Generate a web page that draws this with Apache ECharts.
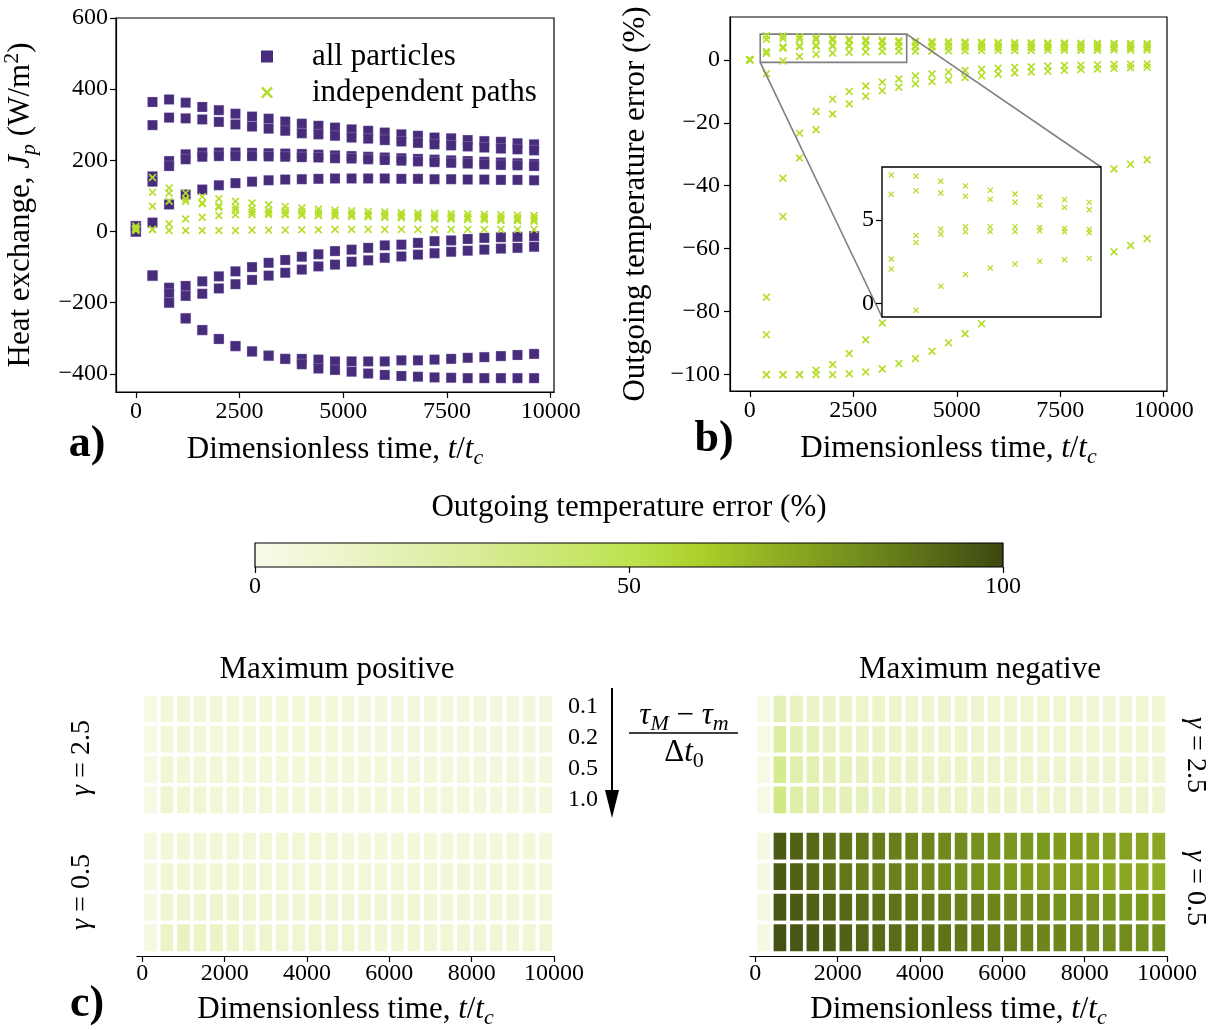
<!DOCTYPE html>
<html><head><meta charset="utf-8">
<script src="https://cdn.jsdelivr.net/npm/echarts@6/dist/echarts.min.js"></script>
<style>html,body{margin:0;padding:0;background:#fff}#c{width:1226px;height:1030px}</style>
</head><body><div id="c"></div>
<script>
// ---------------- DATA ----------------
const times = [0,400,800,1200,1600,2000,2400,2800,3200,3600,4000,4400,4800,5200,5600,6000,6400,6800,7200,7600,8000,8400,8800,9200,9600];

// Panel a: heat exchange J_p (W/m^2), "all particles"
const allP_A = [15,364,371,362,350,341,331,323,317,309,303,297,292,287,283,278,273,269,264,262,257,254,252,248,245];
const allP_B = [15,299,320,318,315,308,301,295,289,283,276,273,269,264,261,257,253,249,245,242,239,236,233,231,228];
const allP_C = [15,155,198,217,222,222,222,221,220,219,218,216,214,212,210,208,206,204,202,200,198,196,194,192,190];
const allP_D = [15,140,184,203,210,212,212,212,211,210,209,208,206,205,203,201,199,197,195,193,191,189,187,186,184];
const allP_E = [15,25,76,104,118,130,136,140,144,146,147,148,149,149,149,149,148,148,147,147,146,146,145,145,144];
const allN_A = [0,-124,-158,-153,-140,-126,-112,-100,-88,-80,-71,-64,-55,-51,-46,-39,-37,-32,-27,-25,-21,-18,-16,-15,-13];
const allN_B = [0,-124,-175,-181,-175,-160,-148,-136,-124,-116,-107,-98,-93,-85,-81,-74,-70,-65,-61,-57,-54,-51,-48,-46,-43];
const allN_C = [0,-124,-200,-244,-277,-302,-322,-337,-349,-358,-358,-360,-365,-365,-365,-365,-362,-362,-360,-358,-355,-353,-350,-347,-344];
const allN_D = [0,-124,-200,-244,-277,-302,-322,-337,-349,-358,-373,-385,-389,-394,-399,-403,-406,-408,-410,-411,-412,-412,-412,-412,-412];
// Panel a: "independent paths"
const indA = [15,152,122,108,98,92,85,80,75,70,66,63,60,58,56,55,53,52,51,50,49,48,47,46,45];
const indB = [10,110,108,92,80,72,68,64,60,58,56,54,52,50,48,47,46,45,44,42,41,40,39,38,38];
const indC = [5,71,85,85,78,68,60,55,52,50,48,46,44,43,42,40,39,37,36,35,34,33,31,30,29];
const indD = [8,6,22,35,40,45,47,48,48,47,46,45,44,43,42,41,40,39,38,37,36,35,34,33,32];
const indE = [3,6,3,3,3,3,3,4,4,4,5,5,6,6,6,6,6,6,6,6,6,6,6,6,6];

// Panel b: outgoing temperature error (%)
const errU1 = [0,7.67,7.60,7.30,7.02,6.76,6.54,6.36,6.20,6.04,5.92,5.81,5.72,5.64,5.57,5.51,5.45,5.40,5.36,5.32,5.29,5.26,5.23,5.21,5.19];
const errU2 = [0,6.52,6.74,6.60,6.40,6.22,6.04,5.88,5.74,5.60,5.48,5.38,5.29,5.21,5.14,5.08,5.02,4.97,4.92,4.88,4.84,4.80,4.77,4.74,4.71];
const errU3 = [0,2.66,4.06,4.44,4.58,4.58,4.58,4.54,4.48,4.42,4.37,4.33,4.29,4.25,4.22,4.19,4.16,4.13,4.11,4.09,4.07,4.05,4.03,4.02,4.00];
const errU4 = [0,2.06,3.64,4.14,4.28,4.30,4.30,4.34,4.28,4.22,4.18,4.14,4.10,4.06,4.03,4.00,3.97,3.95,3.92,3.90,3.88,3.86,3.84,3.82,3.80];
const errU5 = [0,-4.4,-0.40,1.04,1.74,2.12,2.36,2.52,2.62,2.70,2.76,2.81,2.85,2.89,2.92,2.95,2.97,2.99,3.01,3.03,3.05,3.06,3.08,3.09,3.10];
const errL1 = [0,-75.4,-37.6,-23.3,-16.4,-12.5,-10.1,-8.3,-7.1,-6.1,-5.1,-4.5,-3.9,-3.4,-3.0,-2.7,-2.4,-2.2,-2.0,-1.8,-1.7,-1.6,-1.5,-1.4,-1.3];
const errL2 = [0,-87.3,-49.8,-31.2,-22.2,-17.2,-14.0,-11.6,-9.8,-8.7,-7.6,-6.9,-6.4,-5.6,-5.1,-4.6,-4.2,-3.9,-3.6,-3.3,-3.1,-2.9,-2.7,-2.5,-2.4];
const errL3 = [0,-100,-100,-100,-98.6,-96.8,-93.3,-88.9,-83.6,-78,-72,-66,-60.5,-55.5,-51.5,-48,-45,-42.5,-40.5,-38.8,-37.3,-36,-34.7,-33.2,-31.75];
const errL4 = [0,-100,-100,-100,-100,-100,-99.7,-99.2,-98.2,-96.5,-94.9,-92.6,-89.9,-87,-83.8,-80.5,-77.5,-74.5,-71.5,-68.5,-66,-63.5,-61,-59,-56.8];

// Panel c: |outgoing temperature error| (%), rows tau ratio 0.1, 0.2, 0.5, 1.0
const tauLabels = ['0.1','0.2','0.5','1.0'];
const posG25 = [
 [2,7,7,7,7,6,6,6,6,6,6,6,6,5,5,5,5,5,5,5,5,5,5,5,5],
 [2,7,7,7,6,6,6,6,6,6,6,6,5,5,5,5,5,5,5,5,5,5,5,5,5],
 [2,8,7,7,7,7,6,6,6,6,6,6,6,6,6,5,5,5,5,5,5,5,5,5,5],
 [2,10,8,8,7,7,7,7,6,6,6,6,6,6,6,6,6,6,6,5,5,5,5,5,5]];
const posG05 = [
 [3,7,7,7,7,7,7,7,7,7,7,7,6,6,6,6,6,6,6,6,6,6,6,6,6],
 [3,8,8,8,8,8,8,7,7,7,7,7,7,7,7,7,7,7,7,7,7,7,6,6,6],
 [3,10,10,10,10,9,9,9,8,8,8,8,8,8,8,8,8,8,7,7,7,7,7,7,7],
 [3,13,15,14,13,11,10,10,9,9,9,9,9,8,8,8,8,8,8,8,8,8,8,8,8]];
const negG25 = [
 [2,19,15,13,12,12,11,11,11,10,10,10,10,10,9,9,9,9,9,9,8,8,8,8,8],
 [2,26,19,17,15,14,13,13,12,12,11,11,11,10,10,10,10,9,9,9,9,9,9,8,8],
 [2,32,23,21,18,17,16,15,14,13,13,12,12,12,11,11,11,10,10,10,10,10,10,9,9],
 [2,36,25,22,20,18,17,16,15,14,14,13,13,12,12,12,11,11,11,11,10,10,10,10,10]];
const negG05 = [
 [3,95,93,91,89,88,87,86,85,84,83,82,81,80,79,78,78,77,76,76,75,74,74,73,72],
 [3,95,93,91,89,87,86,85,84,83,82,81,80,79,78,77,76,75,75,74,73,72,72,71,70],
 [3,96,95,93,92,91,90,89,88,87,86,85,84,84,83,82,81,81,80,79,79,78,77,77,76],
 [3,97,96,95,94,93,92,91,90,89,88,88,87,86,85,85,84,83,83,82,82,81,81,80,80]];

// Axis ticks / ranges
const timeTicksAB = [0,2500,5000,7500,10000];
const timeTicksC = [0,2000,4000,6000,8000,10000];
const jTicks = [-400,-200,0,200,400,600];
const errTicks = [-100,-80,-60,-40,-20,0];
const insetTicks = [0,5];
const cbarTicks = [0,50,100];
const insetX = [250,3790];
const insetY = [-0.8,8.15];

const CMAP = ['#f8fae8','#eef6d0','#e3f0b3','#d8ec96','#cbe775','#bee34f','#aacf29','#8fad23','#74901d','#596d17','#3c4810'];

// ---------------- CHART ----------------
const SERIF = "'Liberation Serif','DejaVu Serif',serif";
const PURPLE = '#472c7b', LIME = '#b5de2b';
const CROSS = 'path://M1.5,0L5,3.5L8.5,0L10,1.5L6.5,5L10,8.5L8.5,10L5,6.5L1.5,10L0,8.5L3.5,5L0,1.5Z';
const TICKFS = 24, LABFS = 31;
const minus = v => String(v).replace('-', '\u2212');

function richStyle(fs) {
  const b = {fontFamily: SERIF, fontSize: fs, color: '#000', lineHeight: fs + 8};
  return Object.assign({}, b, {rich: {
    i: Object.assign({}, b, {fontStyle: 'italic'}),
    sub: {fontFamily: SERIF, fontSize: Math.round(fs*0.7), fontStyle: 'italic', color: '#000', verticalAlign: 'bottom', lineHeight: Math.round(fs*0.75)},
    subr: {fontFamily: SERIF, fontSize: Math.round(fs*0.7), color: '#000', verticalAlign: 'bottom', lineHeight: Math.round(fs*0.75)},
    sup: {fontFamily: SERIF, fontSize: Math.round(fs*0.7), color: '#000', verticalAlign: 'top', lineHeight: Math.round(fs*0.75)}
  }});
}
const tickLabel = (vals, margin) => ({show: true, customValues: vals, fontFamily: SERIF, fontSize: TICKFS, color: '#000', margin: margin, formatter: minus});
const tick = (vals, len) => ({show: true, customValues: vals, length: len, inside: false, lineStyle: {color: '#000', width: 1.2}});
const line = {show: true, onZero: false, lineStyle: {color: '#000', width: 1.2}};
const timeName = 'Dimensionless time, {i|t}/{i|t}{sub|c}';

const grids = [
  {left: 116, top: 18, width: 438, height: 374, show: true, borderColor: '#000', borderWidth: 1.2},   // 0 a
  {left: 730, top: 17, width: 437, height: 374, show: true, borderColor: '#000', borderWidth: 1.2},   // 1 b
  {left: 882, top: 167, width: 219, height: 150, show: true, backgroundColor: '#fff', borderColor: '#000', borderWidth: 1.4, z: 5}, // 2 inset
  {left: 255, top: 543, width: 748, height: 24, show: true, borderColor: '#000', borderWidth: 1.2,
    backgroundColor: new echarts.graphic.LinearGradient(0, 0, 1, 0, CMAP.map((c, i) => ({offset: i/(CMAP.length-1), color: c})))}, // 3 colorbar
  {left: 137, top: 694, width: 417, height: 121},  // 4 c left top
  {left: 137, top: 831, width: 417, height: 125},  // 5 c left bottom
  {left: 750, top: 694, width: 417, height: 121},  // 6 c right top
  {left: 750, top: 831, width: 417, height: 125}   // 7 c right bottom
];

const xAxes = [
  {gridIndex: 0, type: 'value', min: -480, max: 10080, axisLine: line, axisTick: tick(timeTicksAB, 6), axisLabel: tickLabel(timeTicksAB, 8), splitLine: {show: false},
   name: timeName, nameLocation: 'middle', nameGap: 38, nameTextStyle: richStyle(LABFS)},
  {gridIndex: 1, type: 'value', min: -480, max: 10080, axisLine: line, axisTick: tick(timeTicksAB, 6), axisLabel: tickLabel(timeTicksAB, 8), splitLine: {show: false},
   name: timeName, nameLocation: 'middle', nameGap: 38, nameTextStyle: richStyle(LABFS)},
  {gridIndex: 2, type: 'value', min: insetX[0], max: insetX[1], axisLine: {show: false}, axisTick: {show: false}, axisLabel: {show: false}, splitLine: {show: false}, z: 7},
  {gridIndex: 3, type: 'value', min: 0, max: 100, axisLine: {show: false}, axisTick: tick(cbarTicks, 6), axisLabel: tickLabel(cbarTicks, 8), splitLine: {show: false}},
  {gridIndex: 4, type: 'value', min: -130, max: 10000, show: false},
  {gridIndex: 5, type: 'value', min: -130, max: 10000, axisLine: line, axisTick: tick(timeTicksC, 6), axisLabel: tickLabel(timeTicksC, 6), splitLine: {show: false},
   name: timeName, nameLocation: 'middle', nameGap: 34, nameTextStyle: richStyle(LABFS)},
  {gridIndex: 6, type: 'value', min: -130, max: 10000, show: false},
  {gridIndex: 7, type: 'value', min: -130, max: 10000, axisLine: line, axisTick: tick(timeTicksC, 6), axisLabel: tickLabel(timeTicksC, 6), splitLine: {show: false},
   name: timeName, nameLocation: 'middle', nameGap: 34, nameTextStyle: richStyle(LABFS)}
];
const yAxes = [
  {gridIndex: 0, type: 'value', min: -451, max: 600, axisLine: line, axisTick: tick(jTicks, 6), axisLabel: tickLabel(jTicks, 8), splitLine: {show: false},
   name: 'Heat exchange, {i|J}{sub|p} (W/m{sup|2})', nameLocation: 'middle', nameGap: 76, nameTextStyle: richStyle(LABFS)},
  {gridIndex: 1, type: 'value', min: -105.2, max: 13.6, axisLine: line, axisTick: tick(errTicks, 6), axisLabel: tickLabel(errTicks, 10), splitLine: {show: false},
   name: 'Outgoing temperature error (%)', nameLocation: 'middle', nameGap: 75, nameTextStyle: richStyle(LABFS)},
  {gridIndex: 2, type: 'value', min: insetY[0], max: insetY[1], axisLine: {show: false}, axisTick: tick(insetTicks, 6), axisLabel: tickLabel(insetTicks, 8), splitLine: {show: false}, z: 7},
  {gridIndex: 3, type: 'value', min: 0, max: 1, show: false},
  {gridIndex: 4, type: 'value', min: 0, max: 4, inverse: true, show: false},
  {gridIndex: 5, type: 'value', min: 0, max: 4.1, inverse: true, show: false},
  {gridIndex: 6, type: 'value', min: 0, max: 4, inverse: true, show: false},
  {gridIndex: 7, type: 'value', min: 0, max: 4.1, inverse: true, show: false}
];

const series = [];
const pts = arr => times.map((t, i) => [t, arr[i]]);
[allP_A, allP_B, allP_C, allP_D, allP_E, allN_A, allN_B, allN_C, allN_D].forEach(a => series.push({
  type: 'scatter', name: 'all particles', xAxisIndex: 0, yAxisIndex: 0, symbol: 'rect', symbolSize: 10,
  itemStyle: {color: PURPLE, borderColor: 'rgba(200,190,230,0.55)', borderWidth: 0.5, opacity: 1}, data: pts(a), z: 2, silent: true}));
[indA, indB, indC, indD, indE].forEach(a => series.push({
  type: 'scatter', name: 'independent paths', xAxisIndex: 0, yAxisIndex: 0, symbol: CROSS, symbolSize: 8,
  itemStyle: {color: LIME, opacity: 1}, data: pts(a), z: 3, silent: true}));
const errAll = [errU1, errU2, errU3, errU4, errU5, errL1, errL2, errL3, errL4];
errAll.forEach((a, k) => series.push({
  type: 'scatter', name: 'err' + k, xAxisIndex: 1, yAxisIndex: 1, symbol: CROSS, symbolSize: 8, clip: true,
  itemStyle: {color: LIME, opacity: 1}, data: pts(a), z: 2, silent: true,
  markArea: k === 0 ? {silent: true, itemStyle: {color: 'rgba(0,0,0,0)', borderColor: '#7f7f7f', borderWidth: 1.6},
    data: [[{coord: [insetX[0], insetY[0]]}, {coord: [insetX[1], insetY[1]]}]]} : undefined}));
[errU1, errU2, errU3, errU4, errU5].forEach((a, k) => series.push({
  type: 'scatter', name: 'inset' + k, xAxisIndex: 2, yAxisIndex: 2, symbol: CROSS, symbolSize: 6, clip: true,
  itemStyle: {color: LIME, opacity: 1}, data: pts(a), z: 8, silent: true}));

const tStep = times[1] - times[0];
function cellRender(params, api) {
  const t0 = api.value(0), r = api.value(1);
  const p0 = api.coord([t0, r]);
  const p1 = api.coord([t0 + tStep, r + 1]);
  return {type: 'rect', shape: {x: Math.min(p0[0], p1[0]), y: Math.min(p0[1], p1[1]), width: Math.abs(p1[0] - p0[0]), height: Math.abs(p1[1] - p0[1])},
    style: {fill: api.visual('color'), stroke: '#fff', lineWidth: 3.6}};
}
const heatIdx = [];
[[posG25, 4], [posG05, 5], [negG25, 6], [negG05, 7]].forEach(([mat, g]) => {
  const data = [];
  mat.forEach((row, r) => row.forEach((v, i) => data.push([times[i], r, v])));
  heatIdx.push(series.length);
  series.push({type: 'custom', xAxisIndex: g, yAxisIndex: g, renderItem: cellRender, data: data, silent: true, clip: false,
    encode: {x: 0, y: 1}});
});

const txt = (text, x, y, fs, extra) => ({type: 'text', x: x, y: y, rotation: (extra && extra.rotation) || 0, z: 20,
  style: Object.assign({text: text, x: 0, y: 0, fill: '#000', font: `${(extra && extra.weight) || 'normal'} ${fs}px ${SERIF}`, textAlign: (extra && extra.align) || 'center', textVerticalAlign: 'middle'},
    extra && extra.rich ? {rich: extra.rich} : {})});
const rs = richStyle(LABFS).rich;
const rsG = richStyle(28).rich;
const graphics = [
  txt('a)', 87, 445, 44, {weight: 'bold'}),
  txt('b)', 714, 440, 44, {weight: 'bold'}),
  txt('c)', 87, 1005, 44, {weight: 'bold'}),
  txt('Outgoing temperature error (%)', 629, 508, LABFS),
  txt('Maximum positive', 337, 670, LABFS),
  txt('Maximum negative', 980, 670, LABFS),
  txt('{i|\u03b3} = 2.5', 82, 758, 28, {rotation: Math.PI/2, rich: rsG}),
  txt('{i|\u03b3} = 0.5', 82, 892, 28, {rotation: Math.PI/2, rich: rsG}),
  txt('{i|\u03b3} = 2.5', 1195, 755, 28, {rotation: -Math.PI/2, rich: rsG}),
  txt('{i|\u03b3} = 0.5', 1195, 888, 28, {rotation: -Math.PI/2, rich: rsG}),
  {type: 'line', z: 20, shape: {x1: 612, y1: 688, x2: 612, y2: 792}, style: {stroke: '#000', lineWidth: 2}},
  {type: 'polygon', z: 20, shape: {points: [[605, 790], [619, 790], [612, 818]]}, style: {fill: '#000'}},
  {type: 'line', z: 20, shape: {x1: 629, y1: 733, x2: 738, y2: 733}, style: {stroke: '#000', lineWidth: 1.6}},
  txt('{i|\u03c4}{sub|M} \u2212 {i|\u03c4}{sub|m}', 684, 716, LABFS, {rich: rs}),
  txt('\u0394{i|t}{subr|0}', 684, 753, LABFS, {rich: rs})
];
tauLabels.forEach((l, k) => graphics.push(txt(l, 583, 707 + k * 31, TICKFS)));

const chart = echarts.init(document.getElementById('c'), null, {renderer: 'canvas'});
chart.setOption({
  backgroundColor: '#fff',
  animation: false,
  grid: grids, xAxis: xAxes, yAxis: yAxes,
  legend: {left: 256, top: 36, orient: 'vertical', itemWidth: 12, itemHeight: 12, itemGap: 5, selectedMode: false,
    textStyle: {fontFamily: SERIF, fontSize: LABFS, color: '#000', padding: [0, 0, 0, 34]},
    data: [{name: 'all particles', icon: 'rect', itemStyle: {borderWidth: 0}}, {name: 'independent paths', icon: CROSS, itemStyle: {borderWidth: 0}}]},
  visualMap: [{type: 'continuous', show: false, min: 0, max: 100, dimension: 2, seriesIndex: heatIdx, inRange: {color: CMAP}}],
  series: series,
  graphic: graphics
});
// zoom connector lines, derived from the axes
const a1 = chart.convertToPixel({gridIndex: 1}, [insetX[0], insetY[0]]);
const b1 = chart.convertToPixel({gridIndex: 2}, [insetX[0], insetY[0]]);
const a2 = chart.convertToPixel({gridIndex: 1}, [insetX[1], insetY[1]]);
const b2 = chart.convertToPixel({gridIndex: 2}, [insetX[1], insetY[1]]);
graphics.push({type: 'line', z: 4, shape: {x1: a1[0], y1: a1[1], x2: b1[0], y2: b1[1]}, style: {stroke: '#7f7f7f', lineWidth: 1.6}});
graphics.push({type: 'line', z: 4, shape: {x1: a2[0], y1: a2[1], x2: b2[0], y2: b2[1]}, style: {stroke: '#7f7f7f', lineWidth: 1.6}});
chart.setOption({graphic: graphics}, {replaceMerge: ['graphic']});
</script></body></html>
